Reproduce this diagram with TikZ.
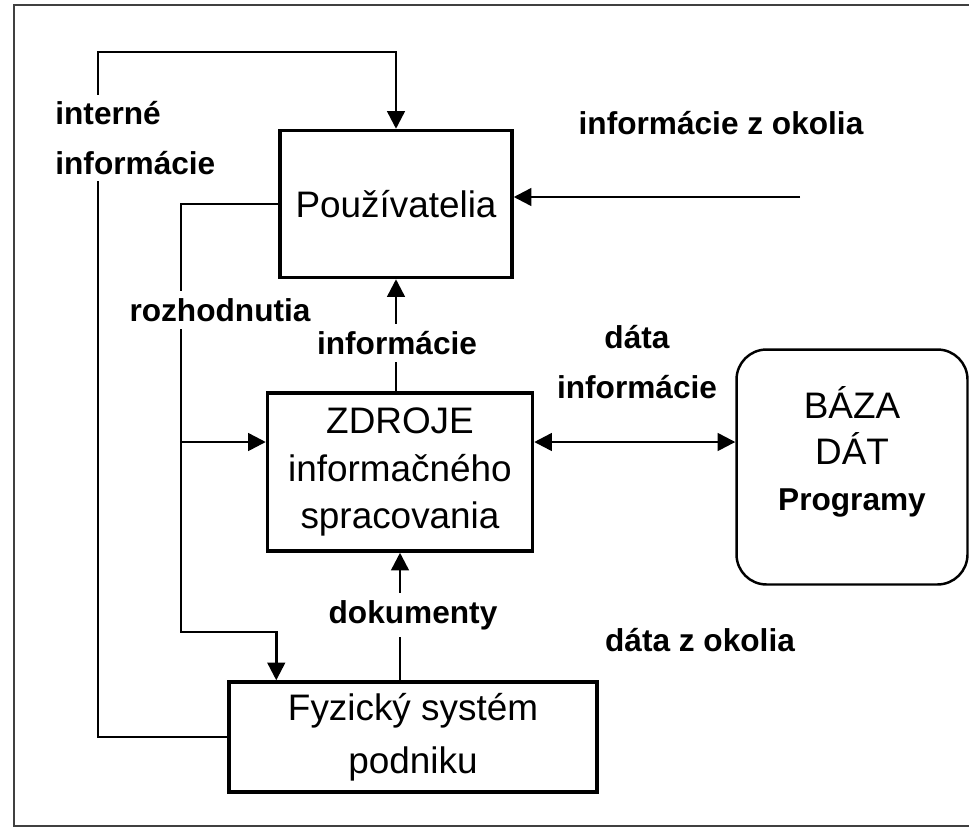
\documentclass[tikz,border=0pt]{standalone}
\usepackage{fontspec}
\setmainfont{Liberation Sans}
\usetikzlibrary{arrows.meta}
\usetikzlibrary{positioning}

\begin{document}
\begin{tikzpicture}
  [x=0.02cm, y=-0.02cm,
   block/.style={draw, line width=2pt, align=center, inner sep=0pt,
         font=\fontsize{21}{27}\selectfont},
   tag/.style={fill=white, align=center, inner sep=4pt,
         font=\bfseries\fontsize{18}{28}\selectfont},
   flow/.style={-{Triangle[length=10pt,width=10pt]}},
   both/.style={{Triangle[length=10pt,width=10pt]}-{Triangle[length=10pt,width=10pt]}}
  ]
  \useasboundingbox (0,0) rectangle (969,828);
  \draw [line width=1.2pt, black!75] (969,5) -- (14,5) -- (14,826) -- (969,826);

 \path
   (396,204) node (pouz)   [block, minimum width=4.64cm, minimum height=2.94cm] {Používatelia}
   (400,472) node (zdroje) [block, minimum width=5.3cm, minimum height=3.16cm]
                           {ZDROJE\\informačného\\spracovania}
   (413,737) node (fyz)    [block, minimum width=7.36cm, minimum height=2.2cm,
                            font=\fontsize{21}{30}\selectfont] {Fyzický systém\\podniku}
   (852,467) node (baza)   [block, line width=1.4pt, rounded corners=0.6cm,
                            minimum width=4.62cm, minimum height=4.7cm] {}
   (852,452) node (bazatxt) [align=center, font=\fontsize{21}{26}\selectfont]
                           {BÁZA\\DÁT\\{\bfseries\fontsize{18}{26}\selectfont Programy}}
   ;

  \coordinate (corner) at (98,52);
  \coordinate (rbend)  at (181,632);
  \coordinate (zin)    at ([yshift=0.6cm]zdroje.west);
  \coordinate (zout)   at ([yshift=0.6cm]zdroje.east);
  \coordinate (okolie) at (800,197);

   \begin{scope}[line width=1.4pt]
   \draw [flow] (fyz.west) -| (corner) -| (pouz.north);
   \draw [flow] (pouz.west) -| (rbend) -| ([xshift=0.98cm]fyz.north west);
   \draw [flow] (zin -| rbend) -- (zin);
   \draw [flow] (zdroje.north -| pouz.south) -- (pouz.south);
   \draw [flow] (zdroje.south |- fyz.north) -- (zdroje.south);
   \draw [both] (zout) -- (zout -| baza.west);
   \draw [flow] (okolie) -- (okolie -| pouz.east);
   \end{scope}

  % labels on top of the lines
  \node (interne)    [tag, align=left, anchor=west] at (48,138) {interné\\informácie};
  \node (rozhod)     [tag] at (220,310) {rozhodnutia};
  \node (info)       [tag] at (397,343) {informácie};
  \node (dokum)      [tag] at (413,615) {dokumenty};
  \node (datainfo)   [tag] at (637,362) {dáta\\informácie};
  \node (infookolie) [tag] at (721,123) {informácie z okolia};
  \node (dataokolie) [tag] at (700,640) {dáta z okolia};

\end{tikzpicture}
\end{document}
